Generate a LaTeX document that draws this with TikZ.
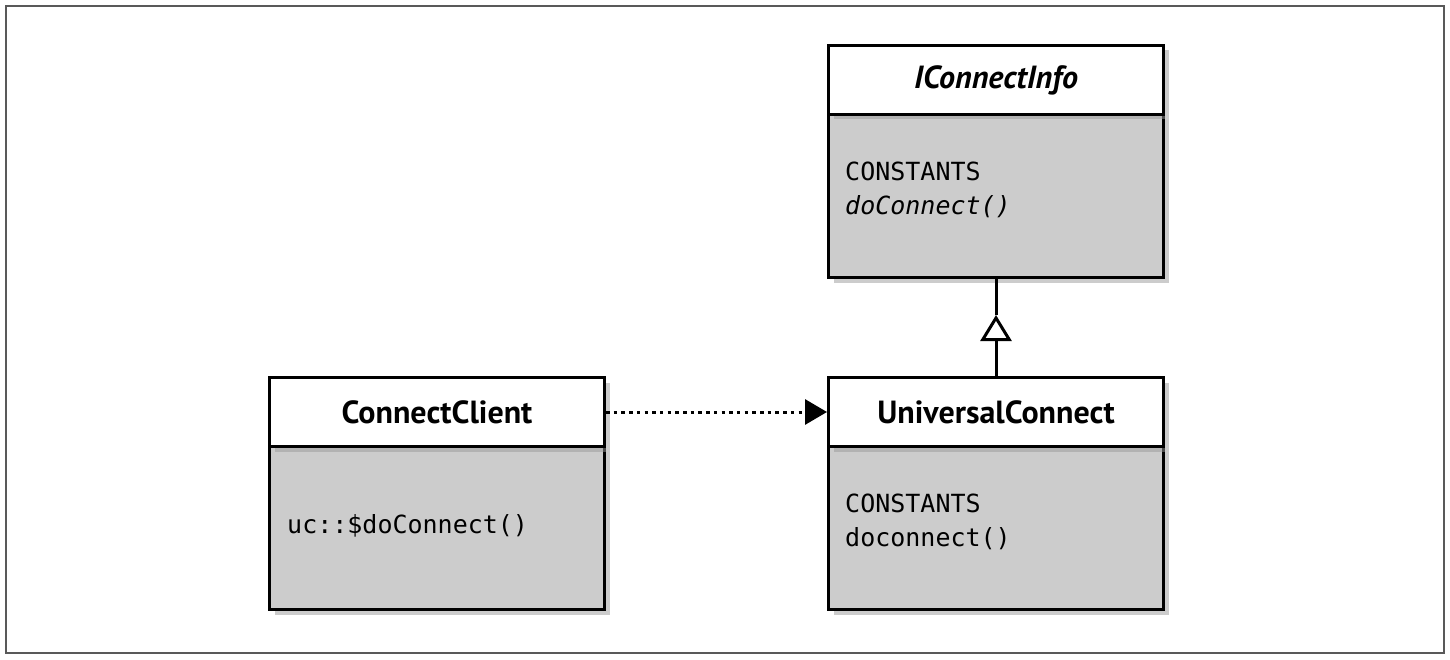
\documentclass[tikz,border=0pt]{standalone}
\usepackage{fontspec}
\setmainfont{PT Sans}
\newfontfamily\titlefont{PT Sans}
\newfontfamily\codefont{DejaVu Sans Mono}
\usetikzlibrary{arrows.meta,calc,shadows}
\definecolor{boxgray}{gray}{0.80}
\definecolor{framegray}{gray}{0.35}
\tikzset{
  boxshadow/.style={drop shadow={shadow xshift=5pt,shadow yshift=-5pt,fill=black!40}},
  classhead/.style={draw,line width=3pt,fill=white,minimum width=335pt,minimum height=69pt,
    inner sep=0pt,anchor=north west,font=\titlefont\fontsize{32}{36}\selectfont\bfseries,boxshadow},
  classbody/.style={draw,line width=3pt,fill=boxgray,minimum width=335pt,minimum height=163pt,
    inner sep=0pt,anchor=north west,boxshadow},
  member/.style={anchor=base west,inner sep=0pt,font=\codefont\fontsize{25}{29}\selectfont},
  conn/.style={line width=3pt},
}
\begin{document}
\begin{tikzpicture}[x=1pt,y=-1pt]
\useasboundingbox (0,0) rectangle (1450,660);
\draw[framegray,line width=2pt] (6,6) rectangle (1444,653);

% IConnectInfo
\node[classbody] (icib) at (827,113) {};
\node[classhead] (icih) at (827,44) {\itshape IConnectInfo};
\node[member] (icim1) at ($(icib.north west)+(18,68)$) {CONSTANTS};
\node[member] (icim2) at ($(icim1.base west)+(0,34)$) {\itshape doConnect()};

% UniversalConnect
\node[classbody] (ucb) at (827,445) {};
\node[classhead] (uch) at (827,376) {UniversalConnect};
\node[member] (ucm1) at ($(ucb.north west)+(18,67)$) {CONSTANTS};
\node[member] (ucm2) at ($(ucm1.base west)+(0,34)$) {doconnect()};

% ConnectClient
\node[classbody] (ccb) at (268,445) {};
\node[classhead] (cch) at (268,376) {ConnectClient};
\node[member] (ccm1) at ($(ccb.north west)+(19,88)$) {uc::\$doConnect()};

% inheritance
\coordinate (apex) at ($(icib.south)+(0,36)$);
\draw[conn,-{Triangle[fill=white,length=26pt,width=31pt,line width=3pt]}] (uch.north) -- (apex);
\draw[conn] (apex) -- (icib.south);

% dependency
\draw[conn,dash pattern=on 3.5pt off 4.2pt,-{Triangle[length=22pt,width=25pt]}] (cch.east) -- (uch.west);
\end{tikzpicture}
\end{document}
